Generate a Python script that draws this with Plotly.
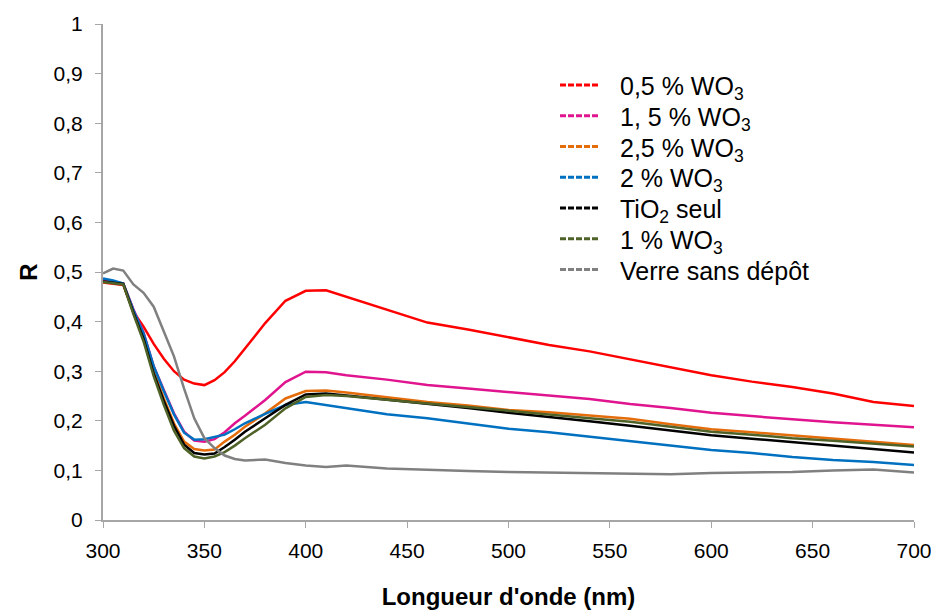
import plotly.graph_objects as go

wavelength = [300, 305, 310, 315, 320, 325, 330, 335, 340, 345, 350, 355, 360, 365, 370,
              380, 390, 400, 410, 420, 440, 460, 480, 500, 520, 540, 560, 580, 600, 620,
              640, 660, 680, 700]

r_05 = [0.479, 0.477, 0.474, 0.420, 0.390, 0.355, 0.325, 0.300, 0.283, 0.275, 0.272, 0.282,
        0.298, 0.320, 0.345, 0.397, 0.442, 0.462, 0.463, 0.450, 0.424, 0.398, 0.384, 0.368,
        0.353, 0.340, 0.324, 0.307, 0.292, 0.279, 0.268, 0.255, 0.238, 0.230]
r_15 = [0.485, 0.480, 0.477, 0.425, 0.378, 0.310, 0.262, 0.215, 0.178, 0.160, 0.158, 0.163,
        0.177, 0.195, 0.210, 0.242, 0.278, 0.299, 0.298, 0.292, 0.283, 0.272, 0.265, 0.258,
        0.252, 0.244, 0.234, 0.226, 0.216, 0.209, 0.203, 0.197, 0.192, 0.187]
r_25 = [0.480, 0.478, 0.476, 0.420, 0.370, 0.300, 0.245, 0.195, 0.158, 0.143, 0.140, 0.142,
        0.158, 0.172, 0.188, 0.215, 0.245, 0.260, 0.261, 0.257, 0.248, 0.238, 0.231, 0.222,
        0.217, 0.210, 0.204, 0.193, 0.183, 0.177, 0.171, 0.165, 0.158, 0.151]
r_2 = [0.487, 0.483, 0.477, 0.423, 0.376, 0.310, 0.260, 0.213, 0.176, 0.162, 0.163, 0.167,
       0.172, 0.183, 0.195, 0.214, 0.232, 0.238, 0.232, 0.226, 0.213, 0.205, 0.195, 0.184,
       0.177, 0.168, 0.158, 0.150, 0.141, 0.135, 0.127, 0.121, 0.117, 0.111]
r_tio2 = [0.481, 0.479, 0.476, 0.418, 0.365, 0.295, 0.240, 0.190, 0.152, 0.135, 0.132, 0.134,
          0.147, 0.162, 0.178, 0.205, 0.232, 0.253, 0.255, 0.251, 0.243, 0.235, 0.226, 0.216,
          0.208, 0.199, 0.190, 0.180, 0.171, 0.164, 0.157, 0.150, 0.143, 0.136]
r_1 = [0.480, 0.478, 0.475, 0.415, 0.360, 0.290, 0.232, 0.180, 0.145, 0.128, 0.124, 0.128,
       0.137, 0.150, 0.165, 0.192, 0.225, 0.248, 0.252, 0.250, 0.242, 0.235, 0.228, 0.220,
       0.213, 0.205, 0.198, 0.188, 0.178, 0.172, 0.165, 0.160, 0.154, 0.148]
r_verre = [0.497, 0.507, 0.503, 0.475, 0.458, 0.430, 0.380, 0.330, 0.265, 0.205, 0.165, 0.145,
           0.130, 0.123, 0.120, 0.122, 0.115, 0.110, 0.107, 0.110, 0.104, 0.101, 0.099, 0.097,
           0.096, 0.095, 0.093, 0.092, 0.095, 0.096, 0.097, 0.100, 0.102, 0.096]

series_names = ["0,5 % WO<sub>3</sub>", "1, 5 % WO<sub>3</sub>", "2,5 % WO<sub>3</sub>",
                "2 % WO<sub>3</sub>", "TiO<sub>2</sub> seul", "1 % WO<sub>3</sub>",
                "Verre sans dépôt"]
series_values = [r_05, r_15, r_25, r_2, r_tio2, r_1, r_verre]
series_colors = ["#FF0000", "#E0148F", "#E46C0A", "#0070C0", "#000000", "#4F6228", "#808080"]

fig = go.Figure()
for name, vals, color in zip(series_names, series_values, series_colors):
    fig.add_trace(go.Scatter(x=wavelength, y=vals, mode="lines", name=name,
                             line=dict(color=color, width=2.5), showlegend=False))

# Legend drawn as annotations + dashed sample lines (paper coordinates)
leg_top = 0.877
leg_step = 0.0620
for i, (name, color) in enumerate(zip(series_names, series_colors)):
    yy = leg_top - i * leg_step
    fig.add_shape(type="line", xref="paper", yref="paper", x0=0.5635, x1=0.6128,
                  y0=yy, y1=yy, line=dict(color=color, width=3, dash="6px,2px"))
    fig.add_annotation(xref="paper", yref="paper", x=0.635, y=yy, text=name,
                       showarrow=False, xanchor="left", yanchor="middle",
                       yshift=-3 if "<sub>" in name else -1,
                       font=dict(size=25, color="black"))

axis_color = "#A6A6A6"
fig.update_layout(
    width=939, height=612,
    margin=dict(l=95, r=33, t=16, b=100),
    paper_bgcolor="white", plot_bgcolor="white",
    separators=",.",
    font=dict(family="Liberation Sans, Arial, sans-serif", color="black"),
    showlegend=False,
    xaxis=dict(range=[300, 700], tickvals=[300, 350, 400, 450, 500, 550, 600, 650, 700],
               showgrid=False, zeroline=False, showline=True, linecolor=axis_color,
               linewidth=2, ticks="outside", tickcolor=axis_color, ticklen=6,
               tickfont=dict(size=21), ticklabelstandoff=5, automargin=False,
               title=dict(text="<b>Longueur d'onde (nm)</b>", font=dict(size=24), standoff=27)),
    yaxis=dict(range=[0, 1], tickvals=[0, 0.1, 0.2, 0.3, 0.4, 0.5, 0.6, 0.7, 0.8, 0.9, 1],
               showgrid=False, zeroline=False, showline=True, linecolor=axis_color,
               linewidth=2, ticks="outside", tickcolor=axis_color, ticklen=6,
               tickfont=dict(size=21), ticklabelstandoff=8, automargin=False,
               title=dict(text="<b>R</b>", font=dict(size=24), standoff=9)),
)

fig.write_html("out.html")
